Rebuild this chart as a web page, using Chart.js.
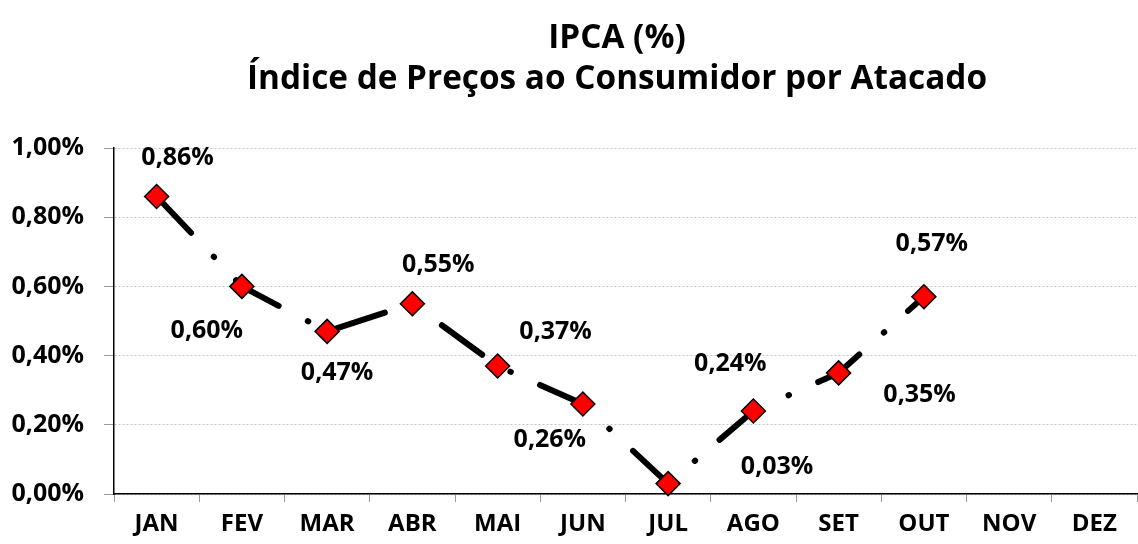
<!DOCTYPE html>
<html>
<head>
<meta charset="utf-8">
<script src="https://cdn.jsdelivr.net/npm/chart.js@4.4.0/dist/chart.umd.min.js"></script>
<style>
html,body{margin:0;padding:0;background:#fff;overflow:hidden;}
#wrap{width:1138px;height:544px;position:relative;overflow:hidden;}
canvas{display:block;}
</style>
</head>
<body>
<div id="wrap"><canvas id="c" width="1138" height="544"></canvas></div>
<script>
const categories = ['JAN','FEV','MAR','ABR','MAI','JUN','JUL','AGO','SET','OUT','NOV','DEZ'];
const ipcaValues = [0.86, 0.60, 0.47, 0.55, 0.37, 0.26, 0.03, 0.24, 0.35, 0.57, null, null];
const titleLines = ['IPCA (%)', 'Índice de Preços ao Consumidor por Atacado'];
const yTicks = [0, 0.2, 0.4, 0.6, 0.8, 1.0];
// style: label offsets (pixels relative to each point)
const labelOffsets = [[21,-39],[-35,44],[10,41],[26,-39],[58,-34],[-33,36],[109,-17],[-23,-47],[81,22],[8,-53]];

const FONT = '"Open Sans", "DejaVu Sans", sans-serif';
const fmt = v => v.toFixed(2).replace('.', ',') + '%';
const zeroPad = s => { s.paddingLeft = 0; s.paddingRight = 0; s.paddingTop = 0; s.paddingBottom = 0; };

const titlePlugin = {
  id: 'titlePlugin',
  afterDraw(chart) {
    const ctx = chart.ctx;
    ctx.save();
    ctx.fillStyle = '#000';
    ctx.textAlign = 'center';
    ctx.textBaseline = 'middle';
    ctx.font = 'bold 30px ' + FONT;
    const w = ctx.measureText(titleLines[1]).width;
    const size = 30 * 740 / w;
    ctx.font = 'bold ' + size.toFixed(2) + 'px ' + FONT;
    ctx.fillText(titleLines[0], 617, 39);
    ctx.fillText(titleLines[1], 617, 80);
    ctx.restore();
  }
};

const labelPlugin = {
  id: 'labelPlugin',
  afterDatasetsDraw(chart) {
    const ctx = chart.ctx;
    const meta = chart.getDatasetMeta(0);
    ctx.save();
    ctx.fillStyle = '#000';
    ctx.textAlign = 'center';
    ctx.textBaseline = 'middle';
    ctx.font = 'bold 25px ' + FONT;
    meta.data.forEach((pt, i) => {
      const v = ipcaValues[i];
      if (v === null || v === undefined) return;
      const off = labelOffsets[i] || [0, -30];
      ctx.fillText(fmt(v), pt.x + off[0], pt.y + off[1]);
    });
    ctx.restore();
  }
};

new Chart(document.getElementById('c'), {
  type: 'line',
  data: {
    labels: categories,
    datasets: [{
      data: ipcaValues,
      borderColor: '#000',
      borderWidth: 6,
      borderDash: [50, 33, 0.5, 32],
      borderCapStyle: 'round',
      borderJoinStyle: 'round',
      tension: 0,
      spanGaps: false,
      clip: false,
      pointStyle: 'rectRot',
      pointRadius: 12,
      pointHoverRadius: 12,
      pointBackgroundColor: '#ff0000',
      pointBorderColor: '#000',
      pointBorderWidth: 1.5
    }]
  },
  options: {
    responsive: false,
    animation: false,
    events: [],
    layout: { autoPadding: false, padding: { top: 148, right: 1, left: 0, bottom: 0 } },
    plugins: { legend: { display: false }, title: { display: false }, tooltip: { enabled: false } },
    scales: {
      x: {
        type: 'category',
        offset: true,
        afterFit(s) { s.height = 50; zeroPad(s); },
        grid: { offset: true, drawOnChartArea: false, drawTicks: true, tickLength: 8, tickColor: '#999', tickWidth: 1 },
        border: { color: '#000', width: 1.5 },
        ticks: { color: '#000', font: { family: FONT, weight: 'bold', size: 24 }, padding: 8, maxRotation: 0, autoSkip: false }
      },
      y: {
        min: 0, max: 1,
        afterFit(s) { s.width = 114; zeroPad(s); },
        afterBuildTicks(s) { s.ticks = yTicks.map(v => ({ value: v })); },
        grid: { color: '#c4c4c4', lineWidth: 1, drawTicks: true, tickLength: 10, tickColor: '#999', tickBorderDash: [] },
        border: { color: '#000', width: 1.5, dash: [2, 2] },
        ticks: { color: '#000', font: { family: FONT, weight: 'bold', size: 25 }, padding: 20, callback: v => fmt(v) }
      }
    }
  },
  plugins: [labelPlugin, titlePlugin]
});
</script>
</body>
</html>
